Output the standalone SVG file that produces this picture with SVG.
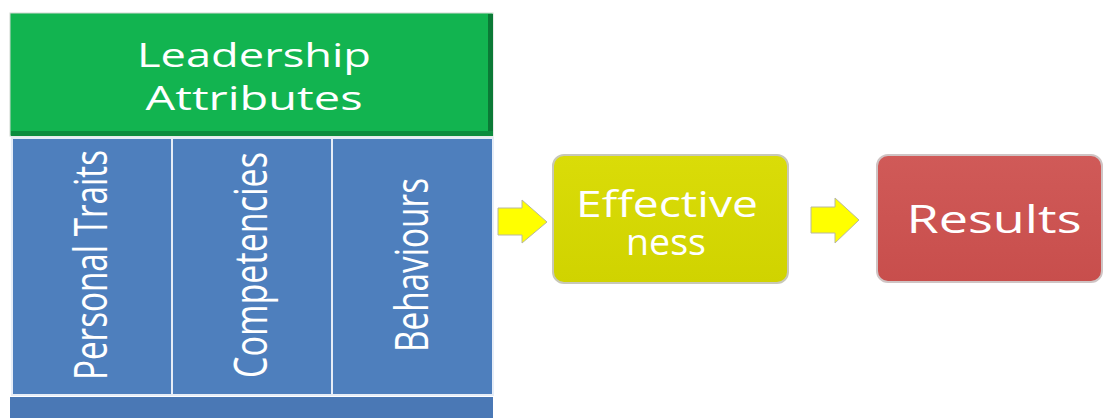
<svg xmlns="http://www.w3.org/2000/svg" width="1105" height="418" viewBox="0 0 1105 418">
  <defs>
    <style>
      .lbl { font-family: "Open Sans", "Liberation Sans", sans-serif; fill: #ffffff; }
      .col { fill: #4e7fbd; stroke: #e6edf7; stroke-width: 2; }
      .arrow { fill: #ffff00; stroke: #b8b8a0; stroke-width: 1; }
    </style>
    <linearGradient id="gYellow" x1="0" y1="0" x2="0" y2="1">
      <stop offset="0" stop-color="#dadc08"/>
      <stop offset="1" stop-color="#d0d300"/>
    </linearGradient>
    <linearGradient id="gRed" x1="0" y1="0" x2="0" y2="1">
      <stop offset="0" stop-color="#d05a58"/>
      <stop offset="1" stop-color="#c84e4c"/>
    </linearGradient>
  </defs>
  <rect width="1105" height="418" fill="#ffffff"/>

  <!-- header block -->
  <g id="leadership-attributes">
    <rect x="10" y="13" width="483" height="123" fill="#12b450" stroke="#d0d8d0" stroke-width="1"/>
    <rect x="488" y="14" width="5" height="122" fill="#0b7a36"/>
    <rect x="11" y="131" width="482" height="5" fill="#0d8c3e"/>
    <text class="lbl" x="254" y="67" font-size="33" text-anchor="middle" textLength="234" lengthAdjust="spacingAndGlyphs">Leadership</text>
    <text class="lbl" x="254" y="110" font-size="33" text-anchor="middle" textLength="217" lengthAdjust="spacingAndGlyphs">Attributes</text>
  </g>

  <!-- three attribute columns -->
  <g id="personal-traits">
    <rect class="col" x="12" y="138" width="160" height="257"/>
    <text class="lbl" transform="translate(107,265) rotate(-90)" font-size="45" text-anchor="middle" textLength="230" lengthAdjust="spacingAndGlyphs">Personal Traits</text>
  </g>
  <g id="competencies">
    <rect class="col" x="172" y="138" width="160" height="257"/>
    <text class="lbl" transform="translate(267,265) rotate(-90)" font-size="45" text-anchor="middle" textLength="226" lengthAdjust="spacingAndGlyphs">Competencies</text>
  </g>
  <g id="behaviours">
    <rect class="col" x="332" y="138" width="161" height="257"/>
    <text class="lbl" transform="translate(428,265) rotate(-90)" font-size="45" text-anchor="middle" textLength="174" lengthAdjust="spacingAndGlyphs">Behaviours</text>
  </g>
  <g id="base-bar">
    <rect x="10" y="397" width="483" height="21" fill="#4a78b5"/>
  </g>

  <!-- outcome boxes -->
  <g id="effectiveness">
    <rect x="553" y="155" width="235" height="128" rx="11" fill="url(#gYellow)" stroke="#c8c8b8" stroke-width="2"/>
    <text class="lbl" x="667" y="217" font-size="37" text-anchor="middle" textLength="182" lengthAdjust="spacingAndGlyphs">Effective</text>
    <text class="lbl" x="666" y="255" font-size="37" text-anchor="middle" textLength="80" lengthAdjust="spacingAndGlyphs">ness</text>
  </g>
  <g id="results">
    <rect x="877" y="155" width="225" height="127" rx="11" fill="url(#gRed)" stroke="#cfc4c4" stroke-width="2"/>
    <text class="lbl" x="994" y="233" font-size="39" text-anchor="middle" textLength="175" lengthAdjust="spacingAndGlyphs">Results</text>
  </g>

  <!-- block arrows between stages -->
  <g id="connectors">
    <polygon class="arrow" points="498,208 522,208 522,200 547,222 522,243 522,235 498,235"/>
    <polygon class="arrow" points="811,207 835,207 835,198 859,220 835,243 835,233 811,233"/>
  </g>
</svg>
